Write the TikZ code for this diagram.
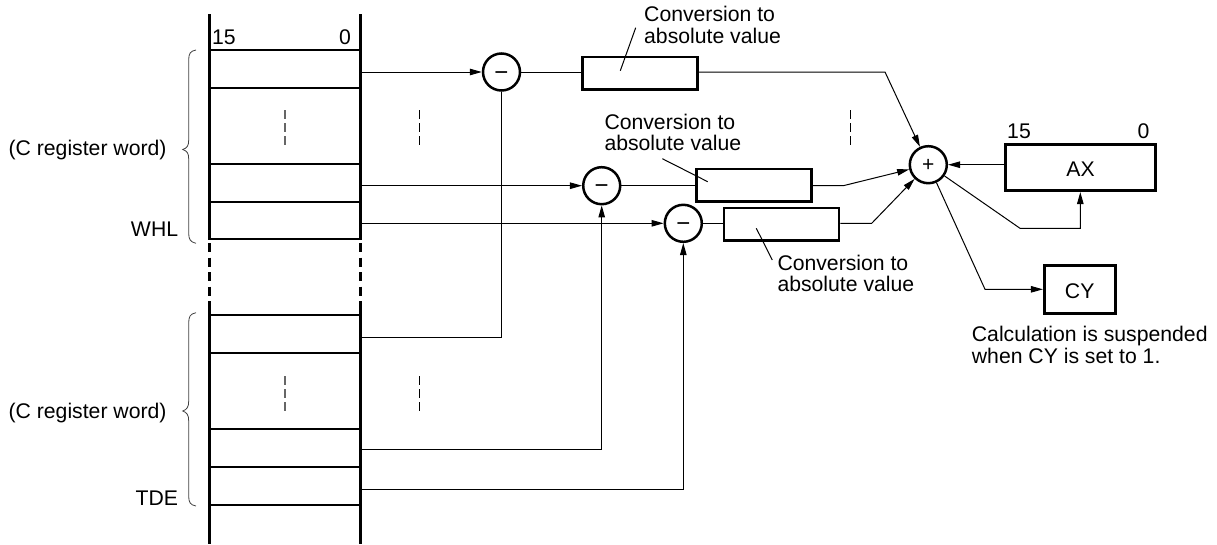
\documentclass[tikz,border=0pt]{standalone}
\usepackage{fontspec}
\setmainfont{Liberation Sans}
\usetikzlibrary{arrows.meta,calc}
\tikzset{
  x=1pt,y=-1pt,
  rail/.style={line width=2.6pt},
  conn/.style={line width=1pt},
  arr/.style={conn,-{Triangle[length=12pt,width=6.5pt]}},
  opnode/.style={circle,draw,line width=2.5pt,minimum size=37pt,inner sep=0pt},
  minusnode/.style={opnode,font=\fontsize{24}{24}\selectfont,text height=16pt,text depth=0pt},
  plusnode/.style={opnode,font=\fontsize{21}{21}\selectfont,text height=14pt,text depth=0pt},
  regbox/.style={draw,line width=2.6pt,inner sep=0pt,font=\fontsize{21.2}{21}\selectfont},
  namedbox/.style={regbox,text height=18.6pt,text depth=0pt},
  lbl/.style={inner sep=0pt,font=\fontsize{21.2}{21.5}\selectfont,align=left},
  dots/.style={line width=0.9pt,dash pattern=on 9pt off 4pt},
  dotsreg/.style={line width=1.4pt,draw=black!60,dash pattern=on 9pt off 4pt},
  bracegrp/.style={line width=0.8pt,draw=black!75},
}
\begin{document}
\begin{tikzpicture}
\useasboundingbox (0,0) rectangle (1217,544);
% register rails
\draw[rail] (209.5,14) -- (209.5,240); \draw[rail] (360.5,14) -- (360.5,240);
\draw[rail,dash pattern=on 9pt off 5.5pt] (209.5,243) -- (209.5,310);
\draw[rail,dash pattern=on 9pt off 5.5pt] (360.5,243) -- (360.5,310);
\draw[rail] (209.5,308) -- (209.5,544); \draw[rail] (360.5,308) -- (360.5,544);
\foreach \y in {50,88,164,202,239,315,353,429,467,505}{\draw[rail] (209.5,\y) -- (360.5,\y);}
% cell anchor coordinates
\coordinate (c1) at (360.5,72); \coordinate (c2) at (360.5,185.7); \coordinate (c3) at (360.5,223.3);
\coordinate (c4) at (360.5,337); \coordinate (c5) at (360.5,449); \coordinate (c6) at (360.5,489);
% bit labels
\node[lbl,anchor=base west] (b15) at (212,44) {15};
\node[lbl,anchor=base east] (b0) at (351,44) {0};
% ellipses
\draw[dotsreg] (285,110) -- (285,145);
\draw[dotsreg] (285,376) -- (285,411);
\draw[dots] (419.5,110) -- (419.5,145);
\draw[dots] (419.5,376) -- (419.5,411);
\draw[dots] (850,110) -- (850,145);
% braces
\draw[bracegrp] (196,50) .. controls (190,51) and (188.7,54) .. (188.7,60) -- (188.7,140) .. controls (188.7,146) and (187,148) .. (182.7,149.5) .. controls (187,151) and (188.7,153) .. (188.7,159) -- (188.7,233) .. controls (188.7,239) and (190,242) .. (196,243.3);
\draw[bracegrp] (196,312.7) .. controls (190,313.7) and (188.7,317) .. (188.7,323) -- (188.7,401) .. controls (188.7,407) and (187,409.5) .. (182.7,411) .. controls (187,412.5) and (188.7,415) .. (188.7,421) -- (188.7,496) .. controls (188.7,502) and (190,505) .. (196,506);
% left labels
\node[lbl,anchor=base east] (l1) at (166.7,155) {(C register word)};
\node[lbl,anchor=base east] (l2) at (178.3,236.7) {WHL};
\node[lbl,anchor=base east] (l3) at (166.7,418) {(C register word)};
\node[lbl,anchor=base east] (l4) at (178.3,505) {TDE};
% operators
\node[minusnode] (m1) at (501.5,72) {−};
\node[minusnode] (m2) at (601.7,185.7) {−};
\node[minusnode] (m3) at (683.3,223.3) {−};
\node[plusnode] (plus) at (928.3,164.7) {+};
% boxes
\node[regbox,minimum width=115pt,minimum height=32.5pt] (b1) at (640.2,73.3) {};
\node[regbox,minimum width=115pt,minimum height=32.5pt] (b2) at (754.2,185.4) {};
\node[regbox,minimum width=115pt,minimum height=32.5pt] (b3) at (781.6,224.3) {};
\node[namedbox,minimum width=150.5pt,minimum height=46.5pt] (ax) at (1080.5,167.5) {AX};
\node[namedbox,minimum width=71pt,minimum height=47.5pt] (cy) at (1079.7,289.5) {CY};
\node[lbl,anchor=base west] (ax15) at (1007,138.3) {15};
\node[lbl,anchor=base east] (ax0) at (1149.5,138.3) {0};
% connectors to operators
\draw[arr] (c1) -- (m1);
\draw[arr] (c2) -- (m2);
\draw[arr] (c3) -- (m3);
\draw[conn] (c4) -| (m1);
\draw[arr] (c5) -| (m2);
\draw[arr] (c6) -| (m3);
\draw[conn] (m1) -- (b1.west |- m1);
\draw[conn] (m2) -- (b2.west |- m2);
\draw[conn] (m3) -- (b3.west |- m3);
% to adder
\coordinate (k1) at (885,72); \coordinate (k2) at (843.3,185.7); \coordinate (k3) at (871.7,223.3);
\draw[arr] (b1.east |- k1) -- (k1) -- (plus);
\draw[arr] (b2.east |- k2) -- (k2) -- (plus);
\draw[arr] (b3.east |- k3) -- (k3) -- (plus);
\draw[arr] (ax.west |- plus) -- (plus);
\coordinate (k4) at (1020,228.3); \coordinate (k5) at (1080.3,228.3);
\draw[arr] (plus) -- (k4) -- (k5) -- (ax.south -| k5);
\coordinate (k6) at (985,289.3);
\draw[arr] (plus) -- (k6) -- (cy.west |- k6);
% callouts
\node[lbl,anchor=base west] (t1a) at (644,21.7) {Conversion to};
\node[lbl,anchor=base west] (t1b) at (644,43.3) {absolute value};
\node[lbl,anchor=base west] (t2a) at (604.3,129.3) {Conversion to};
\node[lbl,anchor=base west] (t2b) at (604.3,150.7) {absolute value};
\node[lbl,anchor=base west] (t3a) at (777.3,270) {Conversion to};
\node[lbl,anchor=base west] (t3b) at (777.3,291.7) {absolute value};
\node[lbl,anchor=base west] (t4a) at (971.7,341.7) {Calculation is suspended};
\node[lbl,anchor=base west] (t4b) at (971.7,363.3) {when CY is set to 1.};
\coordinate (p1a) at (635.7,27.7); \coordinate (p1b) at (620.3,70.7);
\draw[conn] (p1a) -- (p1b);
\coordinate (p2a) at (662.3,158.7); \coordinate (p2b) at (707.7,181.7);
\draw[conn] (p2a) -- (p2b);
\coordinate (p3a) at (756.3,228.3); \coordinate (p3b) at (772.3,260);
\draw[conn] (p3a) -- (p3b);
\end{tikzpicture}
\end{document}
